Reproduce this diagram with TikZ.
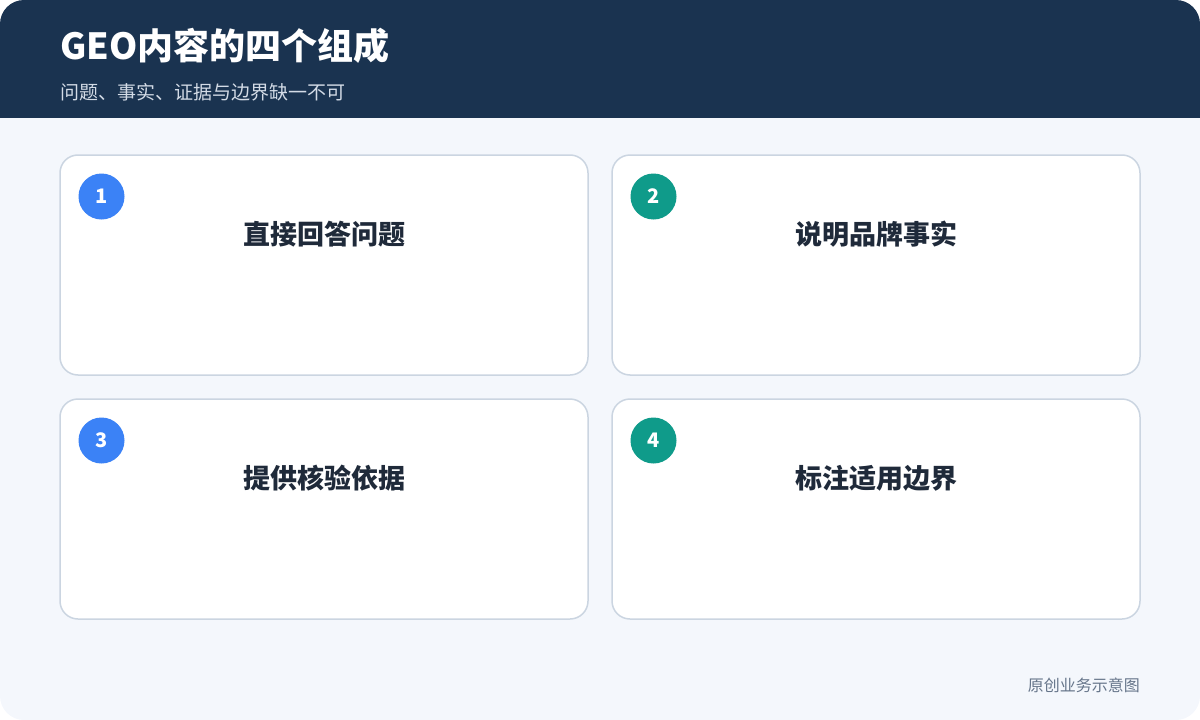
\documentclass[tikz,border=0pt]{standalone}
\usepackage{fontspec}
\setmainfont{Noto Sans CJK SC}
\usepackage{tikz}
\usepackage{xcolor}
\definecolor{navy}{HTML}{1A3350}
\definecolor{pagebg}{HTML}{F4F7FC}
\definecolor{cardline}{HTML}{CBD5E1}
\definecolor{numblue}{HTML}{3B82F6}
\definecolor{numteal}{HTML}{0F9B8A}
\definecolor{ink}{HTML}{1F2A3A}
\definecolor{subink}{HTML}{D3DBE6}
\definecolor{footink}{HTML}{66758A}

\begin{document}
\begin{tikzpicture}
[x=1pt, y=-1pt,
Card/.style={rectangle,draw=cardline,fill=white,line width=1.5pt,rounded corners=18pt, minimum width=528pt, minimum height=220pt},
BlueNum/.style={circle,fill=numblue,text=white,font=\bfseries\fontsize{20}{24}\selectfont, minimum size=46pt, inner sep=0pt},
TealNum/.style={circle,fill=numteal,text=white,font=\bfseries\fontsize{20}{24}\selectfont, minimum size=46pt, inner sep=0pt},
CardTag/.style={rectangle,text=ink,font=\bfseries\fontsize{27}{31}\selectfont, inner sep=0pt},
Tag/.style={rectangle, inner sep=0pt}]

\useasboundingbox (0,0) rectangle (1200,720);

% 背景与页眉
\fill[pagebg, rounded corners=24pt] (0,0) rectangle (1200,720);
\fill[navy, rounded corners=24pt] (0,0) rectangle (1200,160);
\fill[pagebg] (0,118) rectangle (1200,200);
\node[Tag, anchor=west, text=white, font=\bfseries\fontsize{36}{41}\selectfont] (title) at (60,46) {GEO内容的四个组成};
\node[Tag, anchor=west, text=subink, font=\fontsize{19}{23}\selectfont] (sub) at (60,92) {问题、事实、证据与边界缺一不可};

% 第一行
\node[Card] (c1) at (324,265) {};
\node[BlueNum] (b1) at (101.5,196.5) {1};
\node[CardTag] (t1) at (324,234.5) {直接回答问题};
\node[Card] (c2) at (876,265) {};
\node[TealNum] (b2) at (653.5,196.5) {2};
\node[CardTag] (t2) at (876,234.5) {说明品牌事实};

% 第二行
\node[Card] (c3) at (324,509) {};
\node[BlueNum] (b3) at (101.5,440.5) {3};
\node[CardTag] (t3) at (324,478.5) {提供核验依据};
\node[Card] (c4) at (876,509) {};
\node[TealNum] (b4) at (653.5,440.5) {4};
\node[CardTag] (t4) at (876,478.5) {标注适用边界};

% 页脚
\node[Tag, anchor=east, text=footink, font=\fontsize{16}{19}\selectfont] (foot) at (1140,685) {原创业务示意图};

\end{tikzpicture}
\end{document}
